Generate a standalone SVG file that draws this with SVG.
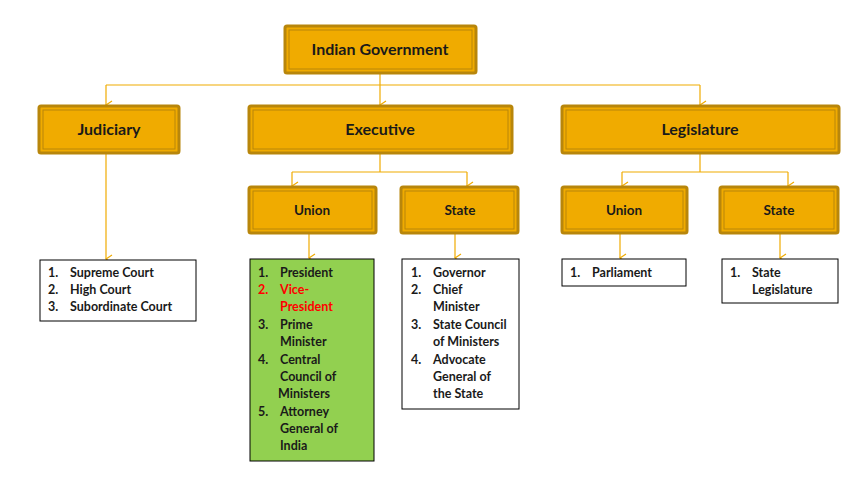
<svg xmlns="http://www.w3.org/2000/svg" width="861" height="481" viewBox="0 0 861 481">
<defs>
<marker id="ar" markerWidth="10" markerHeight="8" refX="5" refY="7" orient="auto-start-reverse" markerUnits="userSpaceOnUse" viewBox="0 0 10 8">
<path d="M1,1 L5,7 L9,1" fill="none" stroke="#F0AB00" stroke-width="1.2"/>
</marker>
<style>
.b{fill:#F0AB00;stroke:#B8860B;stroke-width:3}
.i{fill:none;stroke:#B8860B;stroke-width:1}
.t{font-family:Lato,"Open Sans",sans-serif;font-weight:bold;fill:#1a1a1a;text-anchor:middle}
.l{font-family:Lato,"Open Sans",sans-serif;font-weight:bold;font-size:12.5px;fill:#1a1a1a}
.c{fill:none;stroke:#F0AB00;stroke-width:1.2}
.lb{fill:#fff;stroke:#000;stroke-width:1}
</style>
</defs>
<rect width="861" height="481" fill="#fff"/>
<g id="connectors">
<path class="c" d="M380,73 V105"  marker-end="url(#ar)"/>
<path class="c" d="M106,85 H700"/>
<path class="c" d="M106,85 V105" marker-end="url(#ar)"/>
<path class="c" d="M700,85 V105" marker-end="url(#ar)"/>
<path class="c" d="M380,153 V172 M292,172 H467"/>
<path class="c" d="M292,172 V186" marker-end="url(#ar)"/>
<path class="c" d="M467,172 V186" marker-end="url(#ar)"/>
<path class="c" d="M700,153 V172 M622,172 H788"/>
<path class="c" d="M622,172 V186" marker-end="url(#ar)"/>
<path class="c" d="M788,172 V186" marker-end="url(#ar)"/>
<path class="c" d="M106,153 V259" marker-end="url(#ar)"/>
<path class="c" d="M309,233 V258" marker-end="url(#ar)"/>
<path class="c" d="M455,233 V258" marker-end="url(#ar)"/>
<path class="c" d="M620,233 V258" marker-end="url(#ar)"/>
<path class="c" d="M780,233 V258" marker-end="url(#ar)"/>
</g>
<g id="gov"><rect class="b" x="285" y="26" width="191" height="47" rx="2"/><rect class="i" x="289" y="30" width="183" height="39"/><text class="t" x="380" y="55" font-size="16">Indian Government</text></g>
<g id="judiciary"><rect class="b" x="39" y="106" width="140" height="47" rx="2"/><rect class="i" x="43" y="110" width="132" height="39"/><text class="t" x="109" y="135" font-size="16">Judiciary</text></g>
<g id="executive"><rect class="b" x="249" y="106" width="263" height="47" rx="2"/><rect class="i" x="253" y="110" width="255" height="39"/><text class="t" x="380" y="135" font-size="16">Executive</text></g>
<g id="legislature"><rect class="b" x="562" y="106" width="277" height="47" rx="2"/><rect class="i" x="566" y="110" width="269" height="39"/><text class="t" x="700" y="135" font-size="16">Legislature</text></g>
<g id="exec-union"><rect class="b" x="249" y="187" width="127" height="46" rx="2"/><rect class="i" x="253" y="191" width="119" height="38"/><text class="t" x="312" y="215" font-size="13.5">Union</text></g>
<g id="exec-state"><rect class="b" x="401" y="187" width="117" height="46" rx="2"/><rect class="i" x="405" y="191" width="109" height="38"/><text class="t" x="460" y="215" font-size="13.5">State</text></g>
<g id="leg-union"><rect class="b" x="562" y="187" width="125" height="46" rx="2"/><rect class="i" x="566" y="191" width="117" height="38"/><text class="t" x="624" y="215" font-size="13.5">Union</text></g>
<g id="leg-state"><rect class="b" x="720" y="187" width="118" height="46" rx="2"/><rect class="i" x="724" y="191" width="110" height="38"/><text class="t" x="779" y="215" font-size="13.5">State</text></g>
<g id="jud-list"><rect class="lb" x="40" y="260" width="156" height="61"/>
<text class="l" y="277"><tspan x="48">1.</tspan><tspan x="70">Supreme Court</tspan></text>
<text class="l" y="294"><tspan x="48">2.</tspan><tspan x="70">High Court</tspan></text>
<text class="l" y="311"><tspan x="48">3.</tspan><tspan x="70">Subordinate Court</tspan></text></g>
<g id="union-list"><rect x="250" y="259" width="124" height="202" fill="#92D050" stroke="#000"/>
<text class="l" y="277"><tspan x="258">1.</tspan><tspan x="280">President</tspan></text>
<text class="l" y="294" fill="#FF0000" style="fill:#FF0000"><tspan x="258">2.</tspan><tspan x="280">Vice-</tspan><tspan x="280" dy="17">President</tspan></text>
<text class="l" y="329"><tspan x="258">3.</tspan><tspan x="280">Prime</tspan><tspan x="280" dy="17">Minister</tspan></text>
<text class="l" y="364"><tspan x="258">4.</tspan><tspan x="280">Central</tspan><tspan x="280" dy="17">Council of</tspan><tspan x="278" dy="17">Ministers</tspan></text>
<text class="l" y="416"><tspan x="258">5.</tspan><tspan x="280">Attorney</tspan><tspan x="280" dy="17">General of</tspan><tspan x="280" dy="17">India</tspan></text></g>
<g id="state-list"><rect class="lb" x="402" y="259" width="117" height="150"/>
<text class="l" y="277"><tspan x="411">1.</tspan><tspan x="433">Governor</tspan></text>
<text class="l" y="294"><tspan x="411">2.</tspan><tspan x="433">Chief</tspan><tspan x="433" dy="17">Minister</tspan></text>
<text class="l" y="329"><tspan x="411">3.</tspan><tspan x="433">State Council</tspan><tspan x="433" dy="17">of Ministers</tspan></text>
<text class="l" y="364"><tspan x="411">4.</tspan><tspan x="433">Advocate</tspan><tspan x="433" dy="17">General of</tspan><tspan x="433" dy="17">the State</tspan></text></g>
<g id="parl-list"><rect class="lb" x="562" y="259" width="124" height="27"/>
<text class="l" y="277"><tspan x="570">1.</tspan><tspan x="592">Parliament</tspan></text></g>
<g id="stleg-list"><rect class="lb" x="722" y="259" width="116" height="44"/>
<text class="l" y="277"><tspan x="730">1.</tspan><tspan x="752">State</tspan><tspan x="752" dy="17">Legislature</tspan></text></g>
</svg>
